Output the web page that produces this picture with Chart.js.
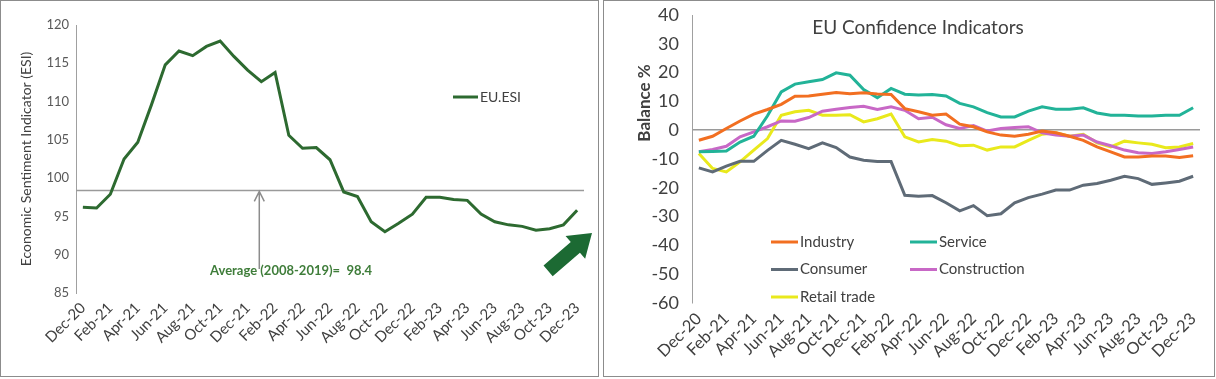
<!DOCTYPE html>
<html>
<head>
<meta charset="utf-8">
<script src="https://cdn.jsdelivr.net/npm/chart.js@4.4.0/dist/chart.umd.min.js"></script>
<style>
  html, body { margin: 0; padding: 0; background: #fff; }
  body { width: 1216px; height: 379px; position: relative; overflow: hidden; }
  .panel { position: absolute; top: 0; height: 379px; }
  #left { left: 0; width: 600px; }
  #right { left: 600px; width: 616px; }
  .frame { position: absolute; top: 0; height: 377px; border: 1.5px solid #8c8c8c; box-sizing: border-box; pointer-events: none; }
</style>
</head>
<body>
<div class="panel" id="left"><canvas id="esiChart" width="600" height="379" style="width:600px;height:379px"></canvas></div>
<div class="panel" id="right"><canvas id="confChart" width="616" height="379" style="width:616px;height:379px"></canvas></div>
<div class="frame" style="left:0;width:599px"></div>
<div class="frame" style="left:603px;width:612px"></div>
<script>
// months Dec-20 .. Dec-23, only every second one is shown on the axis
const months = ['Dec-20','Jan-21','Feb-21','Mar-21','Apr-21','May-21','Jun-21','Jul-21','Aug-21','Sep-21','Oct-21','Nov-21',
  'Dec-21','Jan-22','Feb-22','Mar-22','Apr-22','May-22','Jun-22','Jul-22','Aug-22','Sep-22','Oct-22','Nov-22',
  'Dec-22','Jan-23','Feb-23','Mar-23','Apr-23','May-23','Jun-23','Jul-23','Aug-23','Sep-23','Oct-23','Nov-23','Dec-23'];

// left chart: EU economic sentiment
const esi = [96.2, 96.1, 97.9, 102.5, 104.7, 109.6, 114.8, 116.6, 116.0, 117.2, 117.9, 115.9,
  114.1, 112.6, 113.8, 105.6, 103.9, 104.0, 102.4, 98.2, 97.6, 94.3, 93.0, 94.1,
  95.3, 97.5, 97.5, 97.2, 97.1, 95.3, 94.3, 93.9, 93.7, 93.2, 93.4, 93.9, 95.8];
const esiAverage = 98.4;
const esiAverageLabel = 'Average (2008-2019)=  98.4';
const esiTicks = [85, 90, 95, 100, 105, 110, 115, 120];

// right chart: confidence indicators (balance %)
const industry = [-3.5, -2.1, 0.6, 3.2, 5.6, 7.2, 9.0, 11.8, 11.9, 12.5, 13.1, 12.7,
  13.0, 12.6, 12.4, 7.5, 6.4, 5.2, 5.6, 2.1, 1.2, -0.6, -1.7, -2.1,
  -1.4, -0.3, -0.9, -2.1, -3.5, -5.8, -7.5, -9.3, -9.3, -9.0, -9.0, -9.5, -8.9];
const service = [-7.5, -7.4, -7.2, -4.1, -2.1, 5.0, 13.3, 16.0, 16.8, 17.6, 19.9, 19.1,
  14.1, 11.3, 14.5, 12.5, 12.2, 12.4, 11.9, 9.3, 8.1, 6.1, 4.6, 4.6,
  6.6, 8.1, 7.3, 7.3, 7.8, 6.0, 5.2, 5.2, 4.9, 4.9, 5.2, 5.2, 7.8];
const consumer = [-13.1, -14.5, -12.5, -10.8, -10.8, -7.0, -3.5, -4.9, -6.4, -4.4, -6.0, -9.3,
  -10.4, -10.9, -10.9, -22.6, -22.9, -22.7, -25.2, -28.0, -26.2, -29.7, -29.0, -25.2,
  -23.4, -22.2, -20.8, -20.8, -19.1, -18.5, -17.4, -16.0, -16.8, -18.8, -18.3, -17.7, -16.0];
const construction = [-7.5, -6.7, -5.6, -2.3, -0.6, 1.2, 3.2, 3.1, 4.4, 6.6, 7.3, 7.9,
  8.3, 7.2, 8.1, 6.9, 4.0, 4.5, 1.9, 0.6, 1.6, -0.3, 0.6, 0.9,
  1.2, -0.9, -1.7, -2.1, -1.7, -4.1, -5.4, -6.9, -7.8, -8.1, -7.5, -6.7, -5.8];
const retail = [-8.1, -13.3, -14.5, -11.0, -6.9, -2.9, 5.2, 6.4, 6.9, 5.2, 5.2, 5.4,
  2.9, 4.0, 5.6, -2.3, -4.1, -3.2, -3.8, -5.4, -5.2, -6.9, -5.8, -5.8,
  -3.5, -1.4, -0.9, -2.1, -1.4, -4.4, -5.8, -3.8, -4.4, -4.9, -6.1, -5.8, -4.6];
const confLabels = ['Industry', 'Service', 'Consumer', 'Construction', 'Retail trade'];
const confColors = ['#f26f21', '#22b398', '#5f6b77', '#c868c6', '#e9e91c'];

const FONT = 'Lato, "Open Sans", sans-serif';
const TXT = '#404040';

function everyOther(val, idx) {
  return idx % 2 === 0 ? months[idx] : '';
}

// ---- left chart decorations: average line, arrow, note, legend, green arrow
const esiDecor = {
  id: 'esiDecor',
  beforeDatasetsDraw(chart) {
    const { ctx, chartArea, scales } = chart;
    const yAvg = scales.y.getPixelForValue(esiAverage);
    ctx.save();
    ctx.strokeStyle = '#9a9a9a';
    ctx.lineWidth = 1.5;
    ctx.beginPath();
    ctx.moveTo(chartArea.left, yAvg);
    ctx.lineTo(chartArea.right, yAvg);
    ctx.stroke();
    ctx.restore();
  },
  afterDraw(chart) {
    const { ctx, chartArea, scales } = chart;
    const yAvg = scales.y.getPixelForValue(esiAverage);
    ctx.save();
    // note text
    ctx.font = 'bold 13px ' + FONT;
    ctx.fillStyle = '#3f7d3a';
    ctx.textBaseline = 'middle';
    const tx = chartArea.left + 134;
    const ty = chartArea.bottom - 22;
    ctx.fillText(esiAverageLabel, tx, ty);
    // gray pointer up to the average line
    const ax = tx + ctx.measureText('Average ').width - 1;
    ctx.strokeStyle = '#8c8c8c';
    ctx.lineWidth = 1.5;
    ctx.beginPath();
    ctx.moveTo(ax, ty - 2);
    ctx.lineTo(ax, yAvg + 1);
    ctx.moveTo(ax - 5, yAvg + 11);
    ctx.lineTo(ax, yAvg + 1);
    ctx.lineTo(ax + 5, yAvg + 11);
    ctx.stroke();
    // legend
    const lx = chartArea.left + 377, ly = chartArea.top + 72;
    ctx.strokeStyle = '#2d6a30';
    ctx.lineWidth = 3;
    ctx.beginPath();
    ctx.moveTo(lx, ly);
    ctx.lineTo(lx + 25, ly);
    ctx.stroke();
    ctx.font = '14px ' + FONT;
    ctx.fillStyle = TXT;
    ctx.fillText('EU.ESI', lx + 27, ly);
    // big green arrow pointing up-right
    const tipX = chartArea.right + 8, tipY = chartArea.bottom - 60;
    const ang = Math.atan2(-38, 44);
    ctx.translate(tipX, tipY);
    ctx.rotate(ang);
    ctx.fillStyle = '#1c6a33';
    ctx.beginPath();
    ctx.moveTo(0, 0);
    ctx.lineTo(-22, -15);
    ctx.lineTo(-22, -7);
    ctx.lineTo(-58, -7);
    ctx.lineTo(-58, 7);
    ctx.lineTo(-22, 7);
    ctx.lineTo(-22, 15);
    ctx.closePath();
    ctx.fill();
    ctx.restore();
  }
};

new Chart(document.getElementById('esiChart'), {
  type: 'line',
  data: {
    labels: months,
    datasets: [{
      label: 'EU.ESI',
      data: esi,
      borderColor: '#2d6a30',
      borderWidth: 3,
      pointRadius: 0,
      tension: 0,
      fill: false
    }]
  },
  options: {
    responsive: false,
    animation: false,
    layout: { padding: { top: 25, right: 16, left: 0, bottom: 0 } },
    plugins: { legend: { display: false }, tooltip: { enabled: false } },
    scales: {
      x: {
        offset: true,
        grid: { display: false, drawTicks: false },
        border: { display: false },
        ticks: {
          autoSkip: false, minRotation: 45, maxRotation: 45, padding: 6,
          color: TXT, font: { family: FONT, size: 15 },
          callback: everyOther
        },
        afterFit(scale) { scale.height = 86; }
      },
      y: {
        min: 85, max: 120,
        afterBuildTicks(scale) { scale.ticks = esiTicks.map(v => ({ value: v })); },
        grid: { display: false, drawTicks: false },
        border: { display: true, color: '#a0a0a0', width: 1 },
        ticks: { padding: 7, color: '#595959', font: { family: FONT, size: 13 } },
        title: {
          display: true, text: 'Economic Sentiment Indicator (ESI)',
          color: TXT, font: { family: FONT, size: 14 }, padding: { top: 18, bottom: 0 }
        },
        afterFit(scale) { scale.width = 76; }
      }
    }
  },
  plugins: [esiDecor]
});

// ---- right chart decorations: title, axis title, legend
const confDecor = {
  id: 'confDecor',
  afterDraw(chart) {
    const { ctx, chartArea } = chart;
    ctx.save();
    ctx.fillStyle = TXT;
    ctx.textBaseline = 'middle';
    ctx.textAlign = 'center';
    ctx.font = '19px ' + FONT;
    ctx.fillText('EU Confidence Indicators', chartArea.left + 226, 28);
    // y axis title
    ctx.save();
    ctx.translate(45, chartArea.top + 88);
    ctx.rotate(-Math.PI / 2);
    ctx.font = 'bold 17px ' + FONT;
    ctx.fillText('Balance %', 0, 0);
    ctx.restore();
    // legend in two columns
    ctx.textAlign = 'left';
    ctx.font = '15px ' + FONT;
    chart.data.datasets.forEach((ds, i) => {
      const col = i % 2, row = Math.floor(i / 2);
      const x = chartArea.left + 79 + col * 139;
      const y = chartArea.top + 227 + row * 27.5;
      ctx.strokeStyle = ds.borderColor;
      ctx.lineWidth = 3;
      ctx.beginPath();
      ctx.moveTo(x, y);
      ctx.lineTo(x + 27, y);
      ctx.stroke();
      ctx.fillStyle = TXT;
      ctx.fillText(ds.label, x + 29, y);
    });
    ctx.restore();
  }
};

const confSeries = [industry, service, consumer, construction, retail];

new Chart(document.getElementById('confChart'), {
  type: 'line',
  data: {
    labels: months,
    datasets: confSeries.map((d, i) => ({
      label: confLabels[i],
      data: d,
      borderColor: confColors[i],
      borderWidth: 3,
      pointRadius: 0,
      tension: 0,
      fill: false
    }))
  },
  options: {
    responsive: false,
    animation: false,
    layout: { padding: { top: 15, right: 16, left: 0, bottom: 0 } },
    plugins: { legend: { display: false }, tooltip: { enabled: false } },
    scales: {
      x: {
        offset: true,
        grid: { display: false, drawTicks: false },
        border: { display: false },
        ticks: {
          autoSkip: false, minRotation: 45, maxRotation: 45, padding: 6,
          color: TXT, font: { family: FONT, size: 16.5 },
          callback: everyOther
        },
        afterFit(scale) { scale.height = 76; }
      },
      y: {
        min: -60, max: 40,
        ticks: { stepSize: 10, padding: 13, color: TXT, font: { family: FONT, size: 18 } },
        grid: {
          drawTicks: false,
          color: ctx => ctx.tick && ctx.tick.value === 0 ? '#9a9a9a' : 'rgba(0,0,0,0)',
          lineWidth: 1.5
        },
        border: { display: true, color: '#a0a0a0', width: 1 },
        afterFit(scale) {
          scale.width = 92;
          scale.paddingTop = 0;
          scale.paddingBottom = 0;
        }
      }
    }
  },
  plugins: [confDecor]
});
</script>
</body>
</html>
